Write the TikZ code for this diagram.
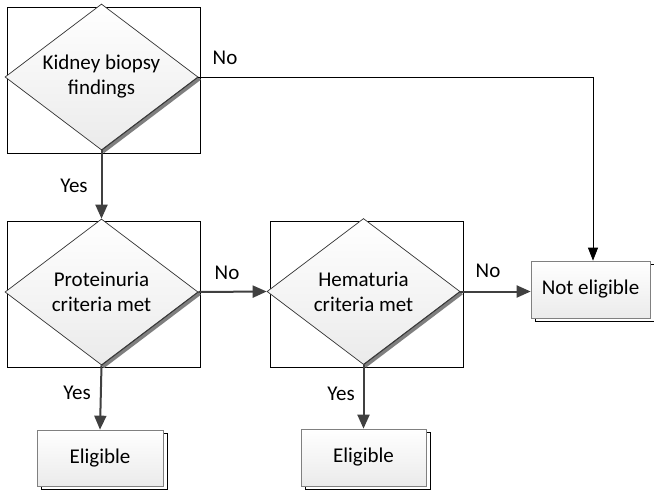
\documentclass[tikz,border=0pt]{standalone}
\usepackage{fontspec}
\setmainfont{Carlito}
\usetikzlibrary{shapes.geometric,arrows.meta,shadows}
\definecolor{darkarrow}{HTML}{404040}
\definecolor{shadegray}{HTML}{7F7F7F}
\begin{document}
\begin{tikzpicture}[x=1pt,y=-1pt,
  txt/.style={font=\fontsize{21}{25}\selectfont},
  frame/.style={draw=black,line width=0.7pt,minimum width=193pt,minimum height=146pt,inner sep=0pt},
  dec/.style={diamond,aspect=1.32,draw=black!80,line width=0.7pt,minimum width=193pt,minimum height=146pt,
    inner sep=0pt,top color=white,bottom color=black!8,align=center,txt},
  decshadow/.style={draw=shadegray,line width=3.8pt},
  endbox/.style={rectangle,draw=black!50,line width=0.7pt,top color=white,bottom color=black!8,
    inner sep=0pt,txt,
    general shadow={draw=black,fill=white,line width=0.7pt,shadow xshift=4pt,shadow yshift=-3pt}},
  flow/.style={draw=darkarrow,line width=2pt,-{Triangle[length=14pt,width=12pt]}},
  thinflow/.style={draw=black,line width=0.8pt,-{Triangle[length=13pt,width=10pt]}},
  lbl/.style={txt,inner sep=0pt}
]
\useasboundingbox[fill=white] (0,0) rectangle (654,491);

% frames
\node[frame] (r1) at (103.5,80) {};
\node[frame] (r2) at (103.5,294) {};
\node[frame] (r3) at (366.5,294) {};

% decision diamonds
\node[dec] (d1) at (101.5,77) {Kidney biopsy\\findings};
\node[dec] (d2) at (101.5,292) {Proteinuria\\criteria met};
\node[dec] (d3) at (363.5,291.5) {Hematuria\\criteria met};

\draw[decshadow] ([shift={(1.3,1.3)}]d1.south) -- ([shift={(1.3,1.3)}]d1.east);
\draw[decshadow] ([shift={(1.3,1.3)}]d2.south) -- ([shift={(1.3,1.3)}]d2.east);
\draw[decshadow] ([shift={(1.3,1.3)}]d3.south) -- ([shift={(1.3,1.3)}]d3.east);
\draw[black!80,line width=0.7pt] (d1.south) -- (d1.east);
\draw[black!80,line width=0.7pt] (d2.south) -- (d2.east);
\draw[black!80,line width=0.7pt] (d3.south) -- (d3.east);

% end boxes
\node[endbox,minimum width=119pt,minimum height=57pt] (ne) at (590.5,289.5) {Not eligible};
\node[endbox,minimum width=126pt,minimum height=56pt] (e1) at (100,458) {Eligible};
\node[endbox,minimum width=125pt,minimum height=57pt] (e2) at (363.5,457.5) {Eligible};

% connectors
\coordinate (c1) at (593,77);
\draw[thinflow] (d1.east) -- (c1) -- (c1 |- ne.north);
\draw[flow] (d1.south) -- (d2.north);
\draw[flow] (d2.east) -- (d3.west);
\draw[flow] (d3.east) -- (d3.east -| ne.west);
\draw[flow] (d2.south) -- (e1.north);
\draw[flow] (d3.south) -- (e2.north);

% labels
\node[lbl] (l1) at (225,58) {No};
\node[lbl] (l2) at (74,186) {Yes};
\node[lbl] (l3) at (227,273) {No};
\node[lbl] (l4) at (488,271) {No};
\node[lbl] (l5) at (77,393) {Yes};
\node[lbl] (l6) at (341,394) {Yes};
\end{tikzpicture}
\end{document}
